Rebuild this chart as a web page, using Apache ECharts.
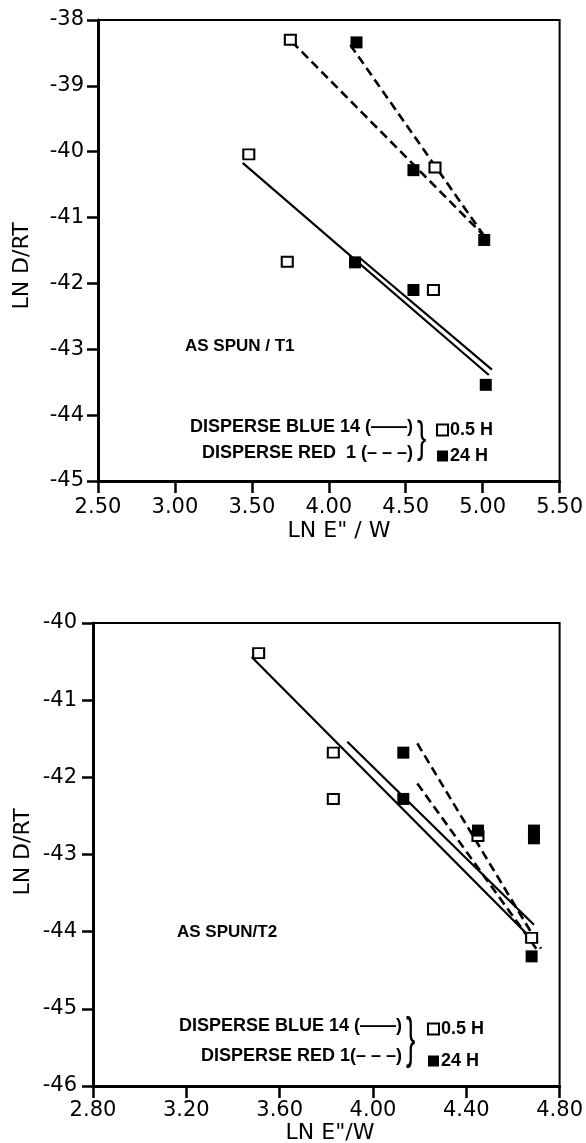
<!DOCTYPE html>
<html><head><meta charset="utf-8">
<script src="https://cdn.jsdelivr.net/npm/echarts@6/dist/echarts.min.js"></script>
<style>html,body{margin:0;padding:0;background:#fff;}#c{width:586px;height:1143px;}</style>
</head><body><div id="c"></div>
<script>
// ---------- data (top panel: AS SPUN / T1) ----------
const t1OpenX   = [3.75, 3.48, 4.69, 3.73, 4.68];
const t1OpenY   = [-38.30, -40.04, -40.24, -41.67, -42.10];
const t1FilledX = [4.18, 4.55, 5.01, 4.17, 4.55, 5.02];
const t1FilledY = [-38.34, -40.28, -41.34, -41.68, -42.10, -43.54];
const t1BlueFitA = [[3.44, -40.17], [5.04, -43.39]];
const t1BlueFitB = [[4.20, -41.61], [5.06, -43.31]];
const t1RedFitA  = [[3.76, -38.33], [5.01, -41.28]];
const t1RedFitB  = [[4.14, -38.38], [5.01, -41.28]];
const t1XTicks = [2.5, 5.5, 0.5];
const t1YTicks = [-45, -38, 1];

// ---------- data (bottom panel: AS SPUN / T2) ----------
const t2OpenX   = [3.51, 3.83, 3.83, 4.45, 4.68];
const t2OpenY   = [-40.39, -41.68, -42.28, -42.76, -44.08];
const t2FilledX = [4.13, 4.13, 4.45, 4.69, 4.69, 4.68];
const t2FilledY = [-41.68, -42.28, -42.69, -42.69, -42.79, -44.32];
const t2BlueFitA = [[3.48, -40.44], [4.66, -44.03]];
const t2BlueFitB = [[3.89, -41.54], [4.69, -43.91]];
const t2RedFitA  = [[4.19, -41.56], [4.72, -44.22]];
const t2RedFitB  = [[4.19, -42.08], [4.70, -44.22]];
const t2XTicks = [2.8, 4.8, 0.4];
const t2YTicks = [-46, -40, 1];

const xTitle1 = 'LN E" / W';
const xTitle2 = 'LN E"/W';
const yTitle = 'LN D/RT';
const panelLabel1 = 'AS SPUN / T1';
const panelLabel2 = 'AS SPUN/T2';
const legendBlue = 'DISPERSE BLUE 14 (——)';
const legendRed1 = 'DISPERSE RED  1 (– – –)';
const legendRed2 = 'DISPERSE RED 1(– – –)';
const timeOpen = '0.5 H';
const timeFilled = '24 H';

const zip = (xs, ys) => xs.map((x, i) => [x, ys[i]]);

const tickFont = 'DejaVu Sans';
const txtFont = 'Liberation Sans';

function xAxisCfg(g, t, m) {
  return {
    gridIndex: g, type: 'value', min: t[0], max: t[1], interval: t[2],
    axisLine: { show: true, onZero: false, lineStyle: { color: '#000', width: 3 } },
    axisTick: { show: true, length: 12, lineStyle: { color: '#000', width: 2.5 } },
    axisLabel: { formatter: v => v.toFixed(2), fontFamily: tickFont, fontSize: 21, color: '#000', margin: m },
    splitLine: { show: false }
  };
}
function yAxisCfg(g, t, m) {
  return {
    gridIndex: g, type: 'value', min: t[0], max: t[1], interval: t[2],
    axisLine: { show: true, onZero: false, lineStyle: { color: '#000', width: 3 } },
    axisTick: { show: true, length: 11, lineStyle: { color: '#000', width: 2.5 } },
    axisLabel: { formatter: v => String(Math.round(v)), fontFamily: tickFont, fontSize: 21, color: '#000', margin: m },
    splitLine: { show: false }
  };
}
function fitLine(name, g, data, dashed) {
  return {
    name: name, type: 'line', xAxisIndex: g, yAxisIndex: g, data: data, symbol: 'none', z: 2,
    lineStyle: { color: '#000', width: dashed ? 2.6 : 2.2, type: dashed ? [9, 5] : 'solid' },
    silent: true, animation: false
  };
}
function openPts(g, data) {
  return { name: timeOpen, type: 'scatter', xAxisIndex: g, yAxisIndex: g, data: data, symbol: 'rect',
    symbolSize: [11, 10], z: 5, itemStyle: { color: '#fff', borderColor: '#000', borderWidth: 2, opacity: 1 }, animation: false };
}
function filledPts(g, data) {
  return { name: timeFilled, type: 'scatter', xAxisIndex: g, yAxisIndex: g, data: data, symbol: 'rect',
    symbolSize: 12, z: 6, itemStyle: { color: '#000', borderColor: '#000', borderWidth: 0, opacity: 1 }, animation: false };
}
function legendCfg(left, top, gap) {
  return {
    left: left, top: top, orient: 'vertical', itemWidth: 11, itemHeight: 11, itemGap: gap,
    selectedMode: false, data: [timeOpen, timeFilled],
    textStyle: { fontFamily: txtFont, fontWeight: 'bold', fontSize: 18, color: '#000', padding: [0, 0, 0, -3] },
    padding: 0
  };
}
function txt(x, y, text, size, align, extra) {
  return Object.assign({ type: 'text', x: x, y: y, silent: true,
    style: { text: text, fontFamily: txtFont, fontWeight: 'bold', fontSize: size, fill: '#000', align: align, verticalAlign: 'middle' } }, extra || {});
}

const chart = echarts.init(document.getElementById('c'), null, { renderer: 'canvas' });
chart.setOption({
  backgroundColor: '#fff',
  animation: false,
  grid: [
    { left: 98, top: 20, width: 467, height: 461, show: true, borderColor: '#000', borderWidth: 2, backgroundColor: 'transparent' },
    { left: 93, top: 623, width: 469, height: 463, show: true, borderColor: '#000', borderWidth: 2, backgroundColor: 'transparent' }
  ],
  xAxis: [xAxisCfg(0, t1XTicks, 16), xAxisCfg(1, t2XTicks, 14)],
  yAxis: [yAxisCfg(0, t1YTicks, 14), yAxisCfg(1, t2YTicks, 16)],
  legend: [legendCfg(436, 421, 8), legendCfg(427, 1020, 14)],
  series: [
    fitLine('Blue 14 fit a (T1)', 0, t1BlueFitA, false),
    fitLine('Blue 14 fit b (T1)', 0, t1BlueFitB, false),
    fitLine('Red 1 fit a (T1)', 0, t1RedFitA, true),
    fitLine('Red 1 fit b (T1)', 0, t1RedFitB, true),
    openPts(0, zip(t1OpenX, t1OpenY)),
    filledPts(0, zip(t1FilledX, t1FilledY)),
    fitLine('Blue 14 fit a (T2)', 1, t2BlueFitA, false),
    fitLine('Blue 14 fit b (T2)', 1, t2BlueFitB, false),
    fitLine('Red 1 fit a (T2)', 1, t2RedFitA, true),
    fitLine('Red 1 fit b (T2)', 1, t2RedFitB, true),
    openPts(1, zip(t2OpenX, t2OpenY)),
    filledPts(1, zip(t2FilledX, t2FilledY))
  ],
  graphic: [
    { type: 'text', x: 22, y: 266, rotation: Math.PI / 2, silent: true,
      style: { text: yTitle, fontFamily: tickFont, fontSize: 22, fill: '#000', align: 'center', verticalAlign: 'middle' } },
    { type: 'text', x: 339, y: 531, silent: true,
      style: { text: xTitle1, fontFamily: tickFont, fontSize: 22, fill: '#000', align: 'center', verticalAlign: 'middle' } },
    { type: 'text', x: 23, y: 852, rotation: Math.PI / 2, silent: true,
      style: { text: yTitle, fontFamily: tickFont, fontSize: 22, fill: '#000', align: 'center', verticalAlign: 'middle' } },
    { type: 'text', x: 330, y: 1133, silent: true,
      style: { text: xTitle2, fontFamily: tickFont, fontSize: 22, fill: '#000', align: 'center', verticalAlign: 'middle' } },
    txt(185, 346, panelLabel1, 17, 'left'),
    txt(177, 932, panelLabel2, 17, 'left'),
    txt(413, 427, legendBlue, 18, 'right'),
    txt(413, 453, legendRed1, 18, 'right'),
    txt(402, 1026, legendBlue, 18, 'right'),
    txt(402, 1056, legendRed2, 18, 'right'),
    { type: 'text', x: 417, y: 440, scaleY: 1.6, silent: true,
      style: { text: '}', fontFamily: txtFont, fontSize: 28, fill: '#000', align: 'left', verticalAlign: 'middle' } },
    { type: 'text', x: 406, y: 1041, scaleY: 2.0, silent: true,
      style: { text: '}', fontFamily: txtFont, fontSize: 28, fill: '#000', align: 'left', verticalAlign: 'middle' } }
  ]
});
</script>
</body></html>
